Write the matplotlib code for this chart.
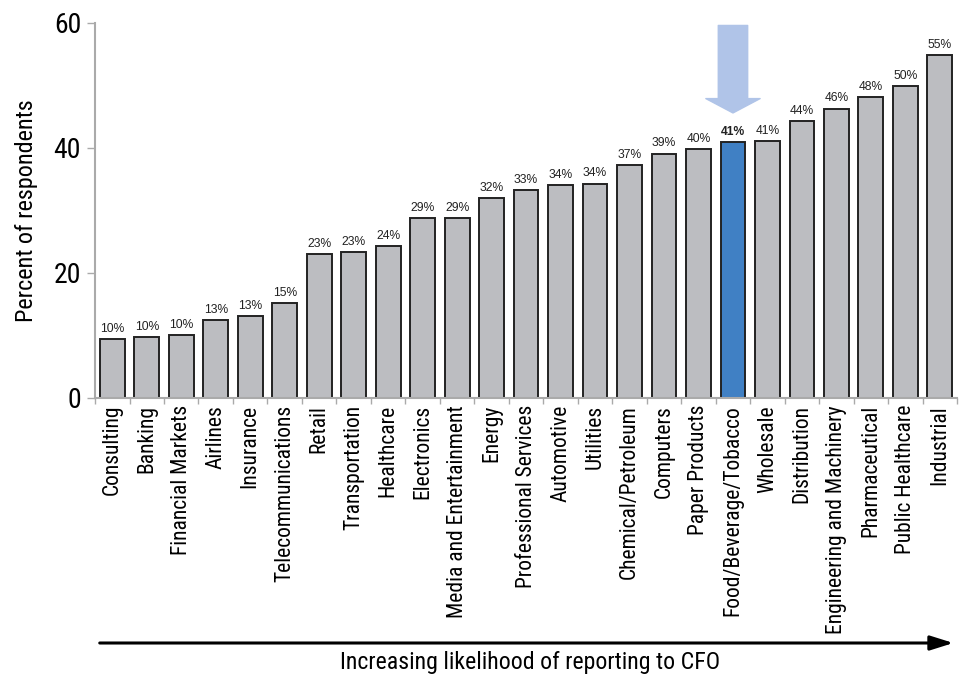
import numpy as np
import matplotlib
matplotlib.use('Agg')
import matplotlib.pyplot as plt

# industries, sorted by share reporting to CFO
industries = ['Consulting', 'Banking', 'Financial Markets', 'Airlines', 'Insurance',
              'Telecommunications', 'Retail', 'Transportation', 'Healthcare', 'Electronics',
              'Media and Entertainment', 'Energy', 'Professional Services', 'Automotive',
              'Utilities', 'Chemical/Petroleum', 'Computers', 'Paper Products',
              'Food/Beverage/Tobacco', 'Wholesale', 'Distribution', 'Engineering and Machinery',
              'Pharmaceutical', 'Public Healthcare', 'Industrial']
values = [9.4, 9.8, 10.1, 12.5, 13.1, 15.2, 23.0, 23.3, 24.3, 28.8, 28.8, 32.0, 33.3,
          34.1, 34.3, 37.2, 39.1, 39.8, 41.0, 41.1, 44.3, 46.3, 48.2, 49.9, 54.8]
labels = ['10%', '10%', '10%', '13%', '13%', '15%', '23%', '23%', '24%', '29%', '29%',
          '32%', '33%', '34%', '34%', '37%', '39%', '40%', '41%', '41%', '44%', '46%',
          '48%', '50%', '55%']
highlight = 'Food/Beverage/Tobacco'

narrow = ['Roboto Condensed', 'Liberation Sans Narrow', 'Liberation Sans', 'DejaVu Sans']
plain = ['Liberation Sans', 'DejaVu Sans']

fig = plt.figure(figsize=(9.6, 6.75), dpi=100)
ax = fig.add_axes([0.099, 0.4104, 0.898, 0.5556])

x = np.arange(len(industries))
colors = ['#4080c4' if n == highlight else '#bcbdc1' for n in industries]
ax.bar(x, values, width=0.72, color=colors, edgecolor='#222222', linewidth=1.4, zorder=2)

for i, (v, t) in enumerate(zip(values, labels)):
    bold = industries[i] == highlight
    ax.annotate(t, (i, v), xytext=(0, 3), textcoords='offset points', ha='center',
                va='bottom', fontsize=8.7, family=plain,
                fontweight='bold' if bold else 'normal', color='#222222')

# highlight arrow above the blue bar
hi = industries.index(highlight)
ax.annotate('', xy=(hi, values[hi] + 4.6), xytext=(hi, 59.6),
            arrowprops=dict(arrowstyle='simple,head_length=0.45,head_width=1.7,tail_width=0.92',
                            mutation_scale=23, color='#b0c4e8', shrinkA=0, shrinkB=0),
            annotation_clip=False)

ax.set_xlim(-0.5, len(industries) - 0.5)
ax.set_ylim(0, 60)
ax.set_yticks([0, 20, 40, 60])
ax.set_yticklabels(['0', '20', '40', '60'], family=narrow, fontsize=20)
ax.set_xticks(x)
ax.set_xticklabels(industries, rotation=90, family=narrow, fontsize=15.5)
ax.tick_params(axis='x', length=0, pad=5)
ax.set_xticks(np.arange(-0.5, len(industries)), minor=True)
ax.tick_params(axis='x', which='minor', length=4, color='#aaaaaa', width=1)
ax.tick_params(axis='y', length=6, color='#aaaaaa', width=1, pad=4)

for s in ['top', 'right']:
    ax.spines[s].set_visible(False)
ax.spines['left'].set_color('#aaaaaa')
ax.spines['bottom'].set_color('#aaaaaa')
ax.spines['left'].set_linewidth(1.5)
ax.spines['bottom'].set_linewidth(1.5)

ax.set_ylabel('Percent of respondents', family=narrow, fontsize=17.4, labelpad=11)

# bottom arrow
fig.add_artist(matplotlib.patches.FancyArrowPatch((0.101, 0.0474), (0.996, 0.0474),
               transform=fig.transFigure, arrowstyle='-|>,head_length=0.7,head_width=0.22',
               mutation_scale=20, color='black', linewidth=2.2))
fig.text(0.552, 0.019, 'Increasing likelihood of reporting to CFO', ha='center',
         va='center', family=narrow, fontsize=17.2)

fig.savefig('out.png', dpi=100)
